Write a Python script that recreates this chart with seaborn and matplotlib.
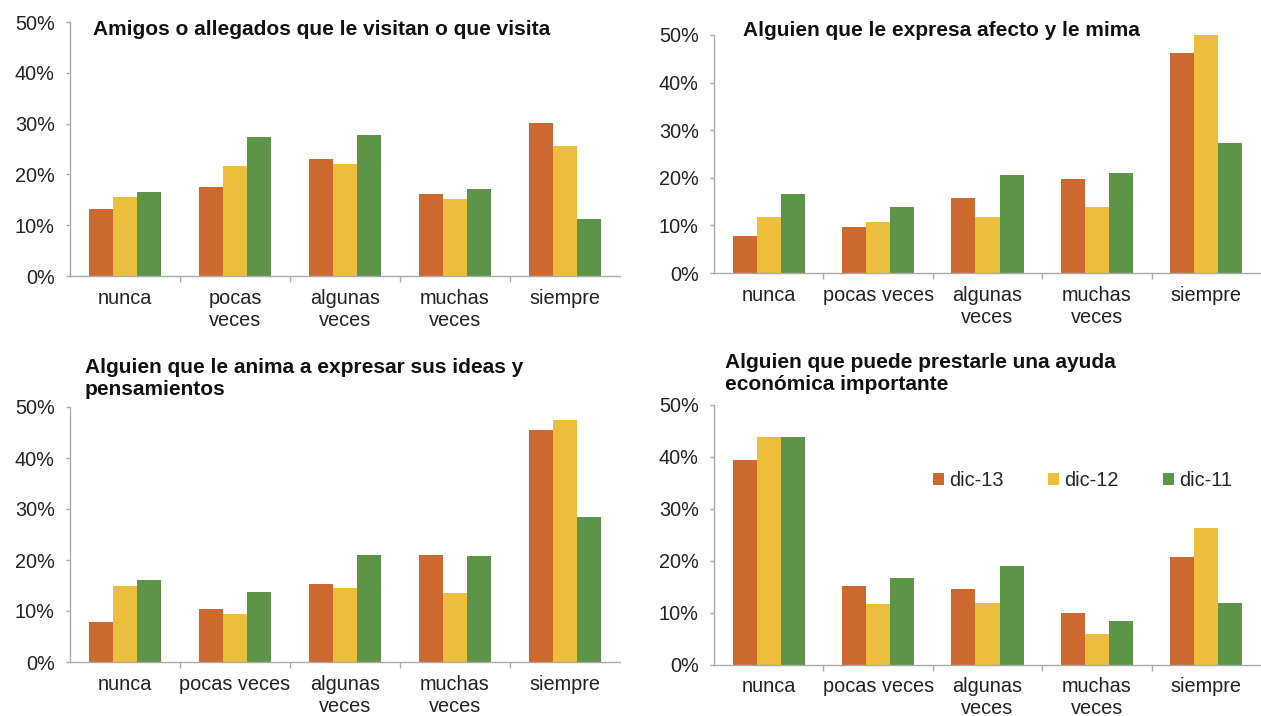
# Apoyo social: frecuencia por tipo de apoyo (dic-11, dic-12, dic-13)

import pandas as pd
import matplotlib.pyplot as plt
import seaborn as sns
from matplotlib.ticker import FuncFormatter, FixedLocator

series = ['dic-13', 'dic-12', 'dic-11']
categories = ['nunca', 'pocas veces', 'algunas veces', 'muchas veces', 'siempre']

titles = [
    'Amigos o allegados que le visitan o que visita',
    'Alguien que le expresa afecto y le mima',
    'Alguien que le anima a expresar sus ideas y\npensamientos',
    'Alguien que puede prestarle una ayuda\neconómica importante',
]

labels_wrapped = ['nunca', 'pocas\nveces', 'algunas\nveces', 'muchas\nveces', 'siempre']
labels_short = ['nunca', 'pocas veces', 'algunas\nveces', 'muchas\nveces', 'siempre']

# values in %, one list per series (order of categories)
amigos_13 = [13.2, 17.6, 23.0, 16.2, 30.2]
amigos_12 = [15.5, 21.6, 22.0, 15.2, 25.5]
amigos_11 = [16.6, 27.3, 27.8, 17.2, 11.3]

afecto_13 = [7.7, 9.6, 15.8, 19.8, 46.2]
afecto_12 = [11.8, 10.7, 11.8, 13.8, 49.9]
afecto_11 = [16.5, 13.8, 20.5, 21.1, 27.4]

ideas_13 = [7.9, 10.4, 15.2, 21.0, 45.4]
ideas_12 = [15.0, 9.5, 14.5, 13.6, 47.4]
ideas_11 = [16.1, 13.8, 21.0, 20.8, 28.5]

ayuda_13 = [39.5, 15.1, 14.6, 10.0, 20.7]
ayuda_12 = [43.9, 11.7, 12.0, 6.0, 26.3]
ayuda_11 = [43.8, 16.7, 19.0, 8.4, 12.0]

colors = ['#CD692E', '#EDBE3C', '#5C9448']


def make_df(v13, v12, v11):
    rows = []
    for s, vals in zip(series, [v13, v12, v11]):
        for c, v in zip(categories, vals):
            rows.append({'cat': c, 'serie': s, 'val': v})
    return pd.DataFrame(rows)


panels = [
    (make_df(amigos_13, amigos_12, amigos_11), labels_wrapped,
     [70 / 1261, 1 - 276 / 716, 550 / 1261, 254 / 716], (0.042, 0.969)),
    (make_df(afecto_13, afecto_12, afecto_11), labels_short,
     [714 / 1261, 1 - 273 / 716, 547 / 1261, 238 / 716], (0.053, 1.021)),
    (make_df(ideas_13, ideas_12, ideas_11), labels_short,
     [70 / 1261, 1 - 662 / 716, 550 / 1261, 255 / 716], (0.027, 1.112)),
    (make_df(ayuda_13, ayuda_12, ayuda_11), labels_short,
     [714 / 1261, 1 - 665 / 716, 547 / 1261, 260 / 716], (0.020, 1.121)),
]

sns.set_style('white')
plt.rcParams['font.family'] = ['Liberation Sans', 'DejaVu Sans']

fig = plt.figure(figsize=(12.61, 7.16), dpi=100)

for i, (df, xlabels, rect, tpos) in enumerate(panels):
    ax = fig.add_axes(rect)
    sns.barplot(data=df, x='cat', y='val', hue='serie', order=categories,
                hue_order=series, palette=colors, width=0.66, saturation=1,
                linewidth=0, ax=ax, legend=(i == 3))
    ax.set_xlim(-0.5, 4.5)
    ax.set_ylim(0, 50)
    ax.yaxis.set_major_locator(FixedLocator([0, 10, 20, 30, 40, 50]))
    ax.yaxis.set_major_formatter(FuncFormatter(lambda v, p: f'{v:.0f}%'))
    ax.set_xticks(range(5))
    ax.set_xticklabels(xlabels, linespacing=1.2)
    ax.set_xticks([0.5, 1.5, 2.5, 3.5], minor=True)
    ax.tick_params(axis='x', which='major', length=0, pad=9,
                   labelsize=14.3, labelcolor='#222222')
    ax.tick_params(axis='x', which='minor', length=4, width=1, color='#aaaaaa',
                   direction='out', bottom=True)
    ax.tick_params(axis='y', length=3, width=1, color='#aaaaaa', pad=8,
                   labelsize=14.3, labelcolor='#222222', left=True)
    ax.set_xlabel('')
    ax.set_ylabel('')
    for side in ['top', 'right']:
        ax.spines[side].set_visible(False)
    for side in ['left', 'bottom']:
        ax.spines[side].set_color('#aaaaaa')
        ax.spines[side].set_linewidth(1)
    ax.text(tpos[0], tpos[1], titles[i], transform=ax.transAxes,
            ha='left', va='center', fontsize=15, fontweight='bold', color='#111111',
            linespacing=1.2, clip_on=False)
    if i == 3:
        handles, labs = ax.get_legend_handles_labels()
        ax.legend(handles, labs, loc='center left', bbox_to_anchor=(0.367, 0.71),
                  ncol=3, frameon=False, fontsize=14.3, handlelength=0.55,
                  handleheight=0.55, handletextpad=0.3, columnspacing=2.2)

plt.savefig('out.png', dpi=100)
plt.close()
